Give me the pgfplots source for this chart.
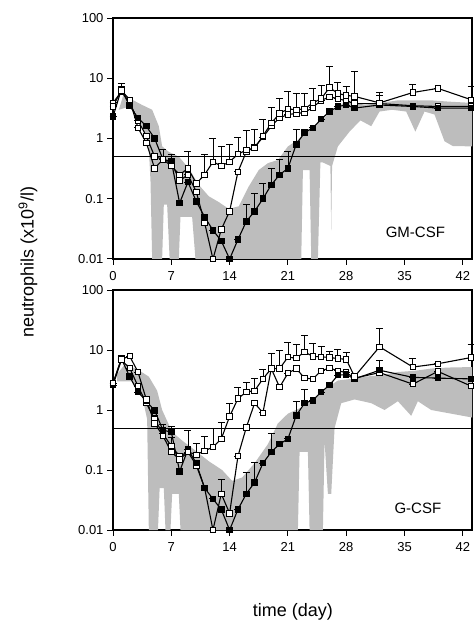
\documentclass[border=0pt]{standalone}
\usepackage{pgfplots}
\usepackage{pgfplotstable}
\pgfplotsset{compat=1.18}
\usepackage{fontspec}
\setmainfont{Liberation Sans}

% GM-CSF panel
\pgfplotstableread{
x y e
0 2.3 0
1 6.5 0
2 3.5 0
3 2.2 0
4 1.6 0
5 1.0 0
6 0.45 0
7 0.42 0
8 0.085 0
9 0.19 0
10 0.09 0
11 0.05 0
12 0.03 0
13 0.02 0
14 0.01 0
15 0.021 0
16 0.042 0.04
17 0.062 0.06
18 0.1 0.08
19 0.17 0.15
20 0.25 0.2
21 0.32 0.3
22 0.8 0.6
23 1.25 0
24 1.5 0
25 2.1 0
26 2.8 0
27 3.4 0
28 3.6 0
29 3.2 0
32 3.6 1.5
36 3.4 0
39 3.2 0
43 3.2 0
}\gmfilled

\pgfplotstableread{
x y e
0 3.4 0
1 6.3 2
2 4.4 0
3 1.5 0
4 0.85 0
5 0.32 0
6 0.45 0.2
7 0.35 0.2
8 0.25 0
9 0.32 0.3
10 0.18 0
11 0.25 0.3
12 0.41 0.6
13 0.35 0.4
14 0.41 0.4
15 0.55 0.5
16 0.64 0.7
17 0.7 0.7
18 1.1 1
19 1.8 1.5
20 2.6 2
21 3.1 3
22 3.0 2.5
23 3.1 2.5
24 3.9 3
25 4.6 3
26 7.0 9
27 5.6 3
28 5.2 2
29 5.0 8
32 3.9 2
36 5.8 2
39 6.8 0
43 4.4 3
}\gmshallow

\pgfplotstableread{
x y e
0 3.9 0
1 6.0 0
2 4.0 0
3 2.0 0
4 1.1 0
5 0.5 0
6 0.45 0
7 0.4 0
8 0.2 0
9 0.25 0
10 0.13 0
11 0.04 0
12 0.01 0
13 0.031 0
14 0.062 0
15 0.28 0
16 0.6 0
17 0.72 0
18 1.05 0
19 1.6 0
20 2.2 0
21 2.5 0
22 2.6 0
23 2.7 0
24 3.3 0
25 4.3 0
26 4.9 0
27 4.6 0
28 4.2 0
29 3.8 0
32 3.8 0
36 3.5 0
39 3.4 0
43 3.4 0
}\gmdeep

% G-CSF panel
\pgfplotstableread{
x y e
0 2.75 0
1 7.2 0
2 3.6 0
3 2.0 0
4 1.4 0
5 0.98 0
6 0.46 0
7 0.43 0.1
8 0.095 0
9 0.22 0
10 0.13 0
11 0.05 0
12 0.033 0
13 0.022 0
14 0.01 0
15 0.022 0
16 0.04 0.05
17 0.062 0.07
18 0.13 0
19 0.2 0.2
20 0.27 0
21 0.33 0
22 0.81 0.6
23 1.3 0.9
24 1.45 0
25 2.0 0
26 2.6 0
27 3.8 0
28 3.9 0
29 3.3 0
32 4.6 2
36 3.5 0
39 3.4 0
43 3.3 0
}\gfilled

\pgfplotstableread{
x y e
0 2.8 0
1 7.0 0
2 7.9 0
3 4.3 0
4 1.5 0
5 0.6 0.2
6 0.37 0.2
7 0.2 0.15
8 0.15 0
9 0.2 0.25
10 0.18 0.1
11 0.21 0.15
12 0.24 0.25
13 0.33 0.3
14 0.78 0.5
15 1.55 0.8
16 2.0 0.9
17 2.1 1.2
18 3.3 1.5
19 4.9 4
20 4.9 5
21 7.6 6
22 7.3 5
23 9.3 8
24 7.8 5
25 7.7 4
26 7.5 2
27 7.2 3
28 7.0 2
29 3.6 0
32 11.3 12
36 5.2 2
39 5.9 0
43 7.5 5
}\gshallow

\pgfplotstableread{
x y e
0 2.6 0
1 6.8 0
2 5.0 0
3 2.5 0
4 1.3 0
5 0.7 0
6 0.4 0
7 0.25 0
8 0.17 0
9 0.2 0
10 0.12 0
11 0.05 0
12 0.01 0
13 0.04 0.03
14 0.019 0
15 0.17 0
16 0.51 0
17 1.3 0
18 0.9 0
19 4.9 0
20 2.4 0
21 4.1 0
22 4.9 0
23 3.4 0
24 3.3 0
25 4.5 0
26 5.0 0
27 4.5 0
28 4.2 0
29 3.4 0
32 4.2 0
36 2.7 0
39 4.4 0
43 2.5 0
}\gdeep

\begin{document}
\begin{tikzpicture}
\useasboundingbox (0pt,0pt) rectangle (474pt,630pt);

% ---------------- GM-CSF ----------------
\begin{axis}[
    ymode=log,
    scale only axis, width=359pt, height=241pt,
    anchor=south west, at={(113pt,371pt)},
    xmin=0, xmax=43.1, ymin=0.01, ymax=100,
    xtick={0,7,14,21,28,35,42},
    xticklabels={0,7,14,21,28,35,42},
    ytick={0.01,0.1,1,10,100},
    yticklabels={0.01,0.1,1,10,100},
    yminorticks=false,
    tick pos=left, tick align=outside,
    major tick length=6pt,
    axis line style={line width=1.2pt},
    tick style={line width=1pt, black},
    ticklabel style={font=\fontsize{13}{13}\selectfont},
    xticklabel style={yshift=-3pt},
    clip=false,
]
\addplot[draw=none, fill=black!26] coordinates {
(0.7,3.0) (1.3,5.6) (2.3,4.4) (3.5,3.6) (4.7,3.0) (5.5,1.6) (5.9,0.74) (6.7,0.6)
(7.9,0.5) (9.1,0.32) (10.3,0.17) (11.5,0.11) (12.7,0.088) (13.9,0.068) (15.1,0.075)
(16.3,0.16) (17.5,0.3) (18.6,0.39) (19.8,0.44) (21,0.74) (22.2,0.95) (23.4,1.4)
(24.6,1.8) (25.8,2.5) (27,3.4) (28.2,4.3) (30.2,3.6) (32.2,3.9) (34.2,4.3) (36.2,4.3)
(38.2,4.3) (40.2,4.1) (43.1,3.9)
(43.1,0.74) (40.8,0.75) (39.8,0.9) (38.6,2.5) (37.4,2.8) (36.3,1.3) (35.2,2.8)
(33.5,3.0) (32,2.8) (31,1.6) (29.7,2.0) (28.4,1.3) (27,0.74) (26.3,0.35) (26.2,0.03)
(26.1,0.35) (25.2,0.4) (24.9,0.4) (24.6,0.01) (23.8,0.01) (23.6,0.3) (22.8,0.3)
(22.6,0.01) (9.9,0.01) (9.5,0.05) (8.1,0.05) (7.9,0.01) (6.8,0.01) (6.5,0.08)
(6.1,0.08) (5.9,0.01) (4.7,0.01) (4.5,0.2) (4.3,0.7) (3.5,1.6) (2.3,3.5) (0.7,3.0)
};
\addplot[black, line width=0.9pt] coordinates {(0,0.5) (43.1,0.5)};
\addplot[black, line width=1.1pt, mark=square*, mark size=2.7pt,
    mark options={fill=white, draw=black, line width=0.9pt},
    error bars/.cd, y dir=plus, y explicit,
    error bar style={line width=0.8pt},
    error mark options={rotate=90, mark size=3.5pt, line width=0.8pt}]
    table[y error=e] {\gmdeep};
\addplot[black, line width=1.1pt, mark=square*, mark size=2.7pt,
    mark options={fill=black, draw=black},
    error bars/.cd, y dir=plus, y explicit,
    error bar style={line width=0.8pt},
    error mark options={rotate=90, mark size=3.5pt, line width=0.8pt}]
    table[y error=e] {\gmfilled};
\addplot[black, line width=1.1pt, mark=square*, mark size=2.7pt,
    mark options={fill=white, draw=black, line width=0.9pt},
    error bars/.cd, y dir=plus, y explicit,
    error bar style={line width=0.8pt},
    error mark options={rotate=90, mark size=3.5pt, line width=0.8pt}]
    table[y error=e] {\gmshallow};
\node[font=\fontsize{15}{15}\selectfont] at (axis cs:36.3,0.028) {GM-CSF};
\end{axis}

% ---------------- G-CSF ----------------
\begin{axis}[
    ymode=log,
    scale only axis, width=359pt, height=240pt,
    anchor=south west, at={(113pt,100pt)},
    xmin=0, xmax=43.1, ymin=0.01, ymax=100,
    xtick={0,7,14,21,28,35,42},
    xticklabels={0,7,14,21,28,35,42},
    ytick={0.01,0.1,1,10,100},
    yticklabels={0.01,0.1,1,10,100},
    yminorticks=false,
    tick pos=left, tick align=outside,
    major tick length=6pt,
    axis line style={line width=1.2pt},
    tick style={line width=1pt, black},
    ticklabel style={font=\fontsize{13}{13}\selectfont},
    xticklabel style={yshift=-3pt},
    clip=false,
]
\addplot[draw=none, fill=black!26] coordinates {
(0.5,4.0) (1.5,5.9) (3.1,4.6) (4.3,3.6) (5.3,2.1) (5.9,1.0) (7.1,0.43) (8.3,0.31)
(9.9,0.21) (11.5,0.14) (13.1,0.1) (14.3,0.066) (15.5,0.075) (17,0.13) (18.6,0.27)
(19.8,0.6) (21,0.87) (22.6,1.1) (24.2,1.6) (25.8,2.4) (27,3.1) (28.6,3.3) (30.2,3.6)
(32.2,3.8) (34.2,4.3) (36.2,4.5) (38.2,4.9) (40.2,5.1) (43.1,5.2)
(43.1,0.75) (40,0.9) (38.2,1.0) (36.6,1.4) (35.8,0.8) (34.2,1.4) (32.6,1.0) (31,1.3)
(29,1.5) (27.4,1.3) (26.6,0.5) (26.2,0.04) (25.8,0.04) (25.4,0.3) (25.2,0.01)
(23.6,0.01) (23.4,0.2) (22.4,0.2) (22.2,0.01) (8.1,0.01) (7.9,0.04) (7.1,0.04)
(6.9,0.01) (6.3,0.01) (6.1,0.05) (5.6,0.05) (5.4,0.01) (4.3,0.01) (4.1,0.7)
(3.5,1.7) (2.3,3.0) (0.5,3.0)
};
\addplot[black, line width=0.9pt] coordinates {(0,0.5) (43.1,0.5)};
\addplot[black, line width=1.1pt, mark=square*, mark size=2.7pt,
    mark options={fill=white, draw=black, line width=0.9pt},
    error bars/.cd, y dir=plus, y explicit,
    error bar style={line width=0.8pt},
    error mark options={rotate=90, mark size=3.5pt, line width=0.8pt}]
    table[y error=e] {\gdeep};
\addplot[black, line width=1.1pt, mark=square*, mark size=2.7pt,
    mark options={fill=black, draw=black},
    error bars/.cd, y dir=plus, y explicit,
    error bar style={line width=0.8pt},
    error mark options={rotate=90, mark size=3.5pt, line width=0.8pt}]
    table[y error=e] {\gfilled};
\addplot[black, line width=1.1pt, mark=square*, mark size=2.7pt,
    mark options={fill=white, draw=black, line width=0.9pt},
    error bars/.cd, y dir=plus, y explicit,
    error bar style={line width=0.8pt},
    error mark options={rotate=90, mark size=3.5pt, line width=0.8pt}]
    table[y error=e] {\gshallow};
\node[font=\fontsize{15}{15}\selectfont] at (axis cs:36.6,0.023) {G-CSF};
\end{axis}

\node[rotate=90, font=\fontsize{18}{18}\selectfont] at (28pt,368pt)
  {neutrophils (x10\textsuperscript{9}/l)};
\node[font=\fontsize{18}{18}\selectfont] at (293pt,18pt) {time (day)};
\end{tikzpicture}
\end{document}
